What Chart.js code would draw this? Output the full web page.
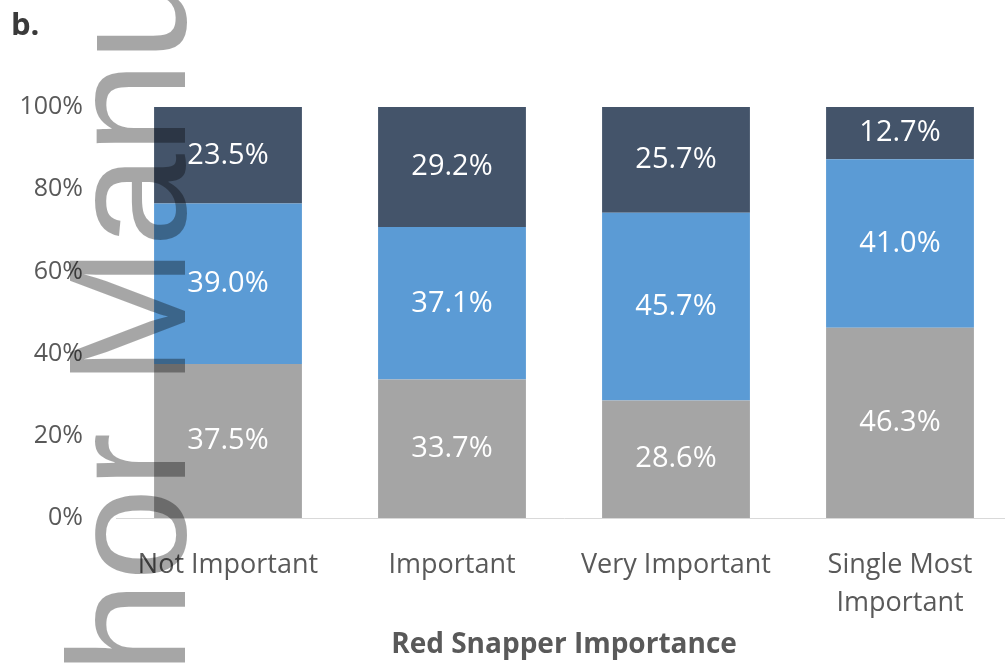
<!DOCTYPE html>
<html>
<head>
<meta charset="utf-8">
<script src="https://cdn.jsdelivr.net/npm/chart.js@4/dist/chart.umd.min.js"></script>
<style>
  html, body { margin: 0; padding: 0; background: #fff; overflow: hidden; }
  canvas { display: block; }
</style>
</head>
<body>
<canvas id="importance-chart" width="1030" height="668"></canvas>
<script>
// categories along the x axis
const categories = ['Not Important', 'Important', 'Very Important', ['Single Most', 'Important']];

// stacked shares (%), bottom to top
const lowShare = [37.5, 33.7, 28.6, 46.3];
const midShare = [39.0, 37.1, 45.7, 41.0];
const highShare = [23.5, 29.2, 25.7, 12.7];

const yTicks = [0, 20, 40, 60, 80, 100];

const labelFont = '"Open Sans", Lato, sans-serif';

// white background, panel letter and axis title
const backdrop = {
    id: 'backdrop',
    beforeDraw(chart) {
        const ctx = chart.ctx;
        ctx.save();
        ctx.fillStyle = '#fff';
        ctx.fillRect(0, 0, chart.width, chart.height);
        ctx.restore();
    },
    afterDraw(chart) {
        const ctx = chart.ctx;
        const area = chart.chartArea;
        ctx.save();
        ctx.fillStyle = '#3a3a3a';
        ctx.font = 'bold 31px ' + labelFont;
        ctx.textBaseline = 'alphabetic';
        ctx.textAlign = 'left';
        ctx.fillText('b.', 11, 35);

        ctx.fillStyle = '#595959';
        ctx.font = 'bold 28px ' + labelFont;
        ctx.textAlign = 'center';
        ctx.textBaseline = 'middle';
        ctx.fillText('Red Snapper Importance', (area.left + area.right) / 2, 645);
        ctx.restore();
    }
};

// value labels in the middle of each segment
const segmentLabels = {
    id: 'segmentLabels',
    afterDatasetsDraw(chart) {
        const ctx = chart.ctx;
        ctx.save();
        ctx.fillStyle = '#fff';
        ctx.font = '29px ' + labelFont;
        ctx.textAlign = 'center';
        ctx.textBaseline = 'middle';
        chart.data.datasets.forEach((ds, i) => {
            const meta = chart.getDatasetMeta(i);
            meta.data.forEach((bar, j) => {
                const p = bar.getCenterPoint();
                ctx.fillText(ds.data[j].toFixed(1) + '%', p.x, p.y);
            });
        });
        ctx.restore();
    }
};

// vertical "Author Manuscript" stamp over the left side
const stamp = {
    id: 'stamp',
    afterDraw(chart) {
        const ctx = chart.ctx;
        ctx.save();
        ctx.font = '167px "Liberation Sans", Arial, sans-serif';
        ctx.fillStyle = 'rgba(0,0,0,0.35)';
        const start = 674 + ctx.measureText('Aut').width;
        ctx.translate(185, start);
        ctx.rotate(-Math.PI / 2);
        ctx.textAlign = 'left';
        ctx.textBaseline = 'alphabetic';
        ctx.fillText('Author Manuscript', 0, 0);
        ctx.restore();
    }
};

const chartCtx = document.getElementById('importance-chart').getContext('2d');

new Chart(chartCtx, {
    type: 'bar',
    data: {
        labels: categories,
        datasets: [
            { label: 'low', data: lowShare, backgroundColor: '#a5a5a5' },
            { label: 'mid', data: midShare, backgroundColor: '#5b9bd5' },
            { label: 'high', data: highShare, backgroundColor: '#44546a' }
        ]
    },
    options: {
        responsive: false,
        animation: false,
        devicePixelRatio: 1,
        layout: { padding: { top: 107, left: 0, right: 18, bottom: 0 } },
        datasets: {
            bar: { categoryPercentage: 1, barPercentage: 0.66, borderWidth: 0 }
        },
        plugins: {
            legend: { display: false },
            tooltip: { enabled: false }
        },
        scales: {
            x: {
                stacked: true,
                grid: { display: false, drawTicks: false },
                border: { display: true, color: '#d9d9d9', width: 1 },
                ticks: {
                    color: '#595959',
                    padding: 28,
                    maxRotation: 0,
                    autoSkip: false,
                    font: { family: labelFont, size: 27, lineHeight: 1.41 }
                },
                afterFit: (scale) => { scale.height = 150; }
            },
            y: {
                stacked: true,
                min: 0,
                max: 100,
                afterBuildTicks: (scale) => {
                    scale.ticks = yTicks.map(v => ({ value: v }));
                },
                grid: { display: false, drawTicks: false },
                border: { display: false },
                ticks: {
                    color: '#595959',
                    padding: 33,
                    font: { family: labelFont, size: 25 },
                    callback: (v) => v + '%'
                },
                afterFit: (scale) => { scale.width = 116; }
            }
        }
    },
    plugins: [backdrop, segmentLabels, stamp]
});
</script>
</body>
</html>
